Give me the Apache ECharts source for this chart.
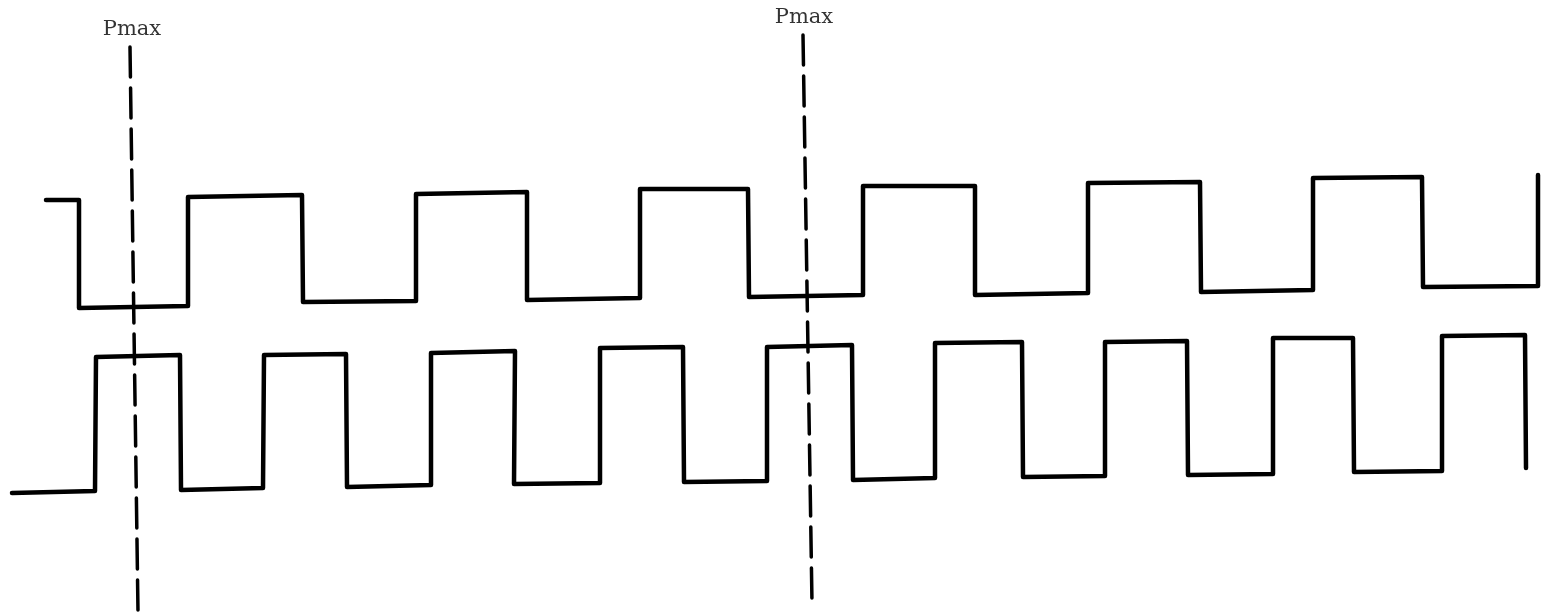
<!DOCTYPE html>
<html lang="en">

<head>
    <meta charset="UTF-8">
    <title>Pmax waveforms</title>
    <script src="https://cdn.jsdelivr.net/npm/echarts@6.0.0/dist/echarts.min.js"></script>
    <style>
        html, body { margin: 0; padding: 0; background: #fff; }
    </style>
</head>

<body>
    <div id="echart" style="width: 1543px; height: 616px;"></div>
</body>

<script>
    // upper square wave, corner points (x, y) in drawing units
    const topX = [46, 79, 79, 188, 188, 302, 303, 416, 416, 527, 527, 640, 640, 748, 749, 863, 863, 975, 975, 1088,
        1088, 1200, 1201, 1313, 1313, 1422, 1423, 1538, 1538];
    const topY = [200, 200, 308, 306, 197, 195, 302, 301, 194, 192, 300, 298, 189, 189, 297, 295, 186, 186, 295, 293,
        183, 182, 292, 290, 178, 177, 287, 286, 175];

    // lower square wave
    const botX = [12, 95, 96, 180, 181, 263, 264, 346, 347, 431, 431, 515, 514, 600, 600, 683, 684, 767, 767, 852,
        853, 935, 935, 1022, 1023, 1105, 1105, 1187, 1188, 1273, 1273, 1353, 1354, 1442, 1442, 1525, 1526];
    const botY = [493, 491, 357, 355, 490, 488, 355, 354, 487, 485, 353, 351, 484, 483, 348, 347, 482, 481, 347, 345,
        480, 478, 343, 342, 477, 476, 342, 341, 475, 474, 338, 338, 472, 471, 336, 335, 468];

    // dashed Pmax markers: [top x, top y, bottom x, bottom y]
    const pmaxLines = [[130, 47, 138, 612], [803, 35, 812, 603]];
    const pmaxLabels = ['Pmax', 'Pmax'];
    const pmaxLabelPos = [[132, 30], [804, 18]];

    function zip(xs, ys) {
        return xs.map((x, i) => [x, ys[i]]);
    }

    const waveStyle = { color: '#000', width: 4.5, cap: 'round', join: 'round' };

    let series = [
        { type: 'line', data: zip(topX, topY), symbol: 'none', lineStyle: waveStyle },
        { type: 'line', data: zip(botX, botY), symbol: 'none', lineStyle: waveStyle },
    ];

    pmaxLines.forEach(l => {
        series.push({
            type: 'line',
            data: [[l[0], l[1]], [l[2], l[3]]],
            symbol: 'none',
            lineStyle: { color: '#000', width: 3.5, type: [30, 11], cap: 'round' },
        });
    });

    series.push({
        type: 'scatter',
        data: pmaxLabelPos.map((p, i) => ({ value: p, name: pmaxLabels[i] })),
        symbolSize: 0,
        label: {
            show: true,
            position: 'inside',
            formatter: '{b}',
            color: '#000',
            fontFamily: 'DejaVu Serif',
            fontSize: 21,
        },
    });

    const myChart = echarts.init(document.getElementById('echart'));
    myChart.setOption({
        animation: false,
        grid: { left: 0, right: 0, top: 0, bottom: 0 },
        xAxis: { type: 'value', min: 0, max: 1543, show: false },
        yAxis: { type: 'value', min: 0, max: 616, inverse: true, show: false },
        series: series,
    });
</script>

</html>
